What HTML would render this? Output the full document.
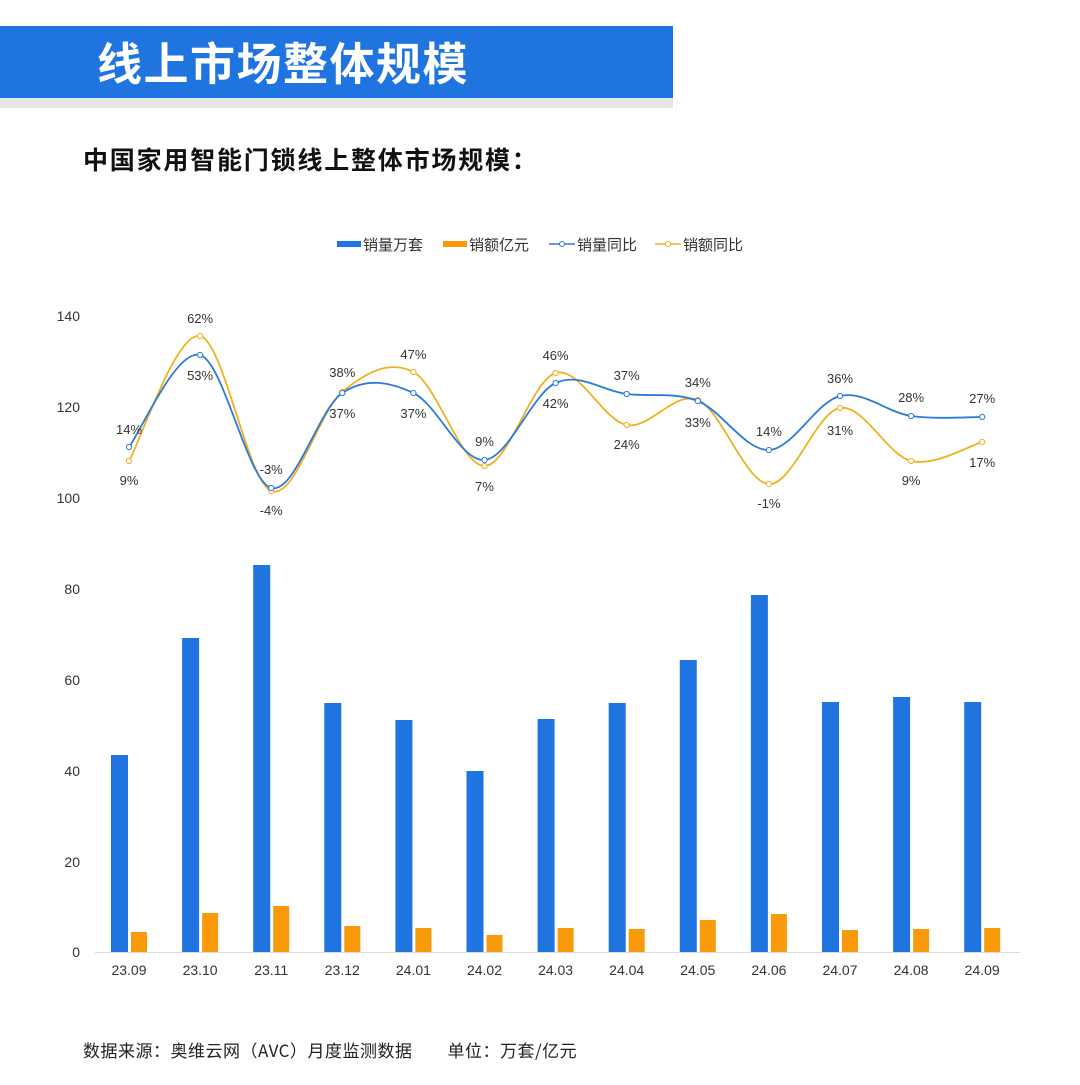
<!DOCTYPE html>
<html><head><meta charset="utf-8"><style>
body{margin:0;width:1080px;height:1080px;background:#fff;overflow:hidden;font-family:"Liberation Sans","Noto Sans CJK SC",sans-serif}
</style></head><body>
<svg id="s" width="1080" height="1080" xmlns="http://www.w3.org/2000/svg" font-family="Liberation Sans, Noto Sans CJK SC, sans-serif">
<rect x="0" y="96" width="673" height="12" fill="#e6e6e6"/>
<rect x="0" y="26" width="673" height="72" fill="#1f74e0"/>
<text x="97" y="80" font-size="45" font-weight="bold" fill="#fff" letter-spacing="1.5" font-family="Noto Sans CJK SC, sans-serif">线上市场整体规模</text>
<text x="83" y="169" font-size="25" font-weight="bold" fill="#111" letter-spacing="1.8" font-family="Noto Sans CJK SC, sans-serif">中国家用智能门锁线上整体市场规模：</text>
<g font-size="15" fill="#333" font-family="Noto Sans CJK SC, sans-serif">
<rect x="337" y="241" width="24" height="6" fill="#1f74e0"/><text x="363" y="250">销量万套</text>
<rect x="443" y="241" width="24" height="6" fill="#f99a0b"/><text x="469" y="250">销额亿元</text>
<line x1="549" y1="244" x2="575" y2="244" stroke="#2b7bd9" stroke-width="1.5"/><circle cx="562" cy="244" r="2.5" fill="#fff" stroke="#2b7bd9"/><text x="577" y="250">销量同比</text>
<line x1="655" y1="244" x2="681" y2="244" stroke="#f0b020" stroke-width="1.5"/><circle cx="668" cy="244" r="2.5" fill="#fff" stroke="#f0b020"/><text x="683" y="250">销额同比</text>
</g>
<g font-size="14" fill="#333" text-anchor="end">
<text x="80" y="321">140</text><text x="80" y="412">120</text><text x="80" y="503">100</text><text x="80" y="594">80</text><text x="80" y="685">60</text><text x="80" y="776">40</text><text x="80" y="867">20</text><text x="80" y="957">0</text>
</g>
<line x1="95" y1="952.5" x2="1020" y2="952.5" stroke="#d9d9d9" stroke-width="1"/>
<g id="g"></g>
<text x="83" y="1057" font-size="17" fill="#222" letter-spacing="0.5" font-family="Noto Sans CJK SC, sans-serif">数据来源：奥维云网（AVC）月度监测数据　　单位：万套/亿元</text>
</svg>
<script>
var g=document.getElementById('g'),N='http://www.w3.org/2000/svg';
function el(t,a,txt){var e=document.createElementNS(N,t);for(var k in a)e.setAttribute(k,a[k]);if(txt)e.textContent=txt;g.appendChild(e);return e;}
var cats=['23.09','23.10','23.11','23.12','24.01','24.02','24.03','24.04','24.05','24.06','24.07','24.08','24.09'];
var bt=[755,638,565,703,720,771,719,703,660,595,702,697,702];
var ot=[932,913,906,926,928,935,928,929,920,914,930,929,928];
var bl=[447,355,488,393,393,460,383,394,401,450,396,416,417];
var ol=[461,336,491,392,372,466,373,425,400,484,408,461,442];
var lt=[['14%',429,'9%',480],['62%',318,'53%',375],['-3%',469,'-4%',510],['38%',372,'37%',413],['47%',354,'37%',413],['9%',441,'7%',486],['46%',355,'42%',403],['37%',375,'24%',444],['34%',382,'33%',422],['14%',431,'-1%',503],['36%',378,'31%',430],['28%',397,'9%',480],['27%',398,'17%',462]];
var cx=[];
for(var i=0;i<13;i++){var c=129+71.1*i;cx.push(c);
el('rect',{x:c-18,y:bt[i],width:17,height:952-bt[i],fill:'#1f74e0'});
el('rect',{x:c+2,y:ot[i],width:16,height:952-ot[i],fill:'#f99a0b'});
el('text',{x:c,y:975,'font-size':14,fill:'#333','text-anchor':'middle'},cats[i]);
}
function path(ys,col){var d='M'+cx[0]+','+ys[0];
for(var i=0;i<12;i++){var p0=i?i-1:i,p3=i+2>12?12:i+2;
var c1x=cx[i]+(cx[i+1]-cx[p0])/6,c1y=ys[i]+(ys[i+1]-ys[p0])/6,c2x=cx[i+1]-(cx[p3]-cx[i])/6,c2y=ys[i+1]-(ys[p3]-ys[i])/6;
d+=' C'+c1x+','+c1y+' '+c2x+','+c2y+' '+cx[i+1]+','+ys[i+1];}
el('path',{d:d,fill:'none',stroke:col,'stroke-width':1.8});
for(var i=0;i<13;i++)el('circle',{cx:cx[i],cy:ys[i],r:2.6,fill:'#fff',stroke:col,'stroke-width':1});}
path(ol,'#f0b020');path(bl,'#2b7bd9');
for(var i=0;i<13;i++){el('text',{x:cx[i],y:lt[i][1]+5,'font-size':13,fill:'#333','text-anchor':'middle'},lt[i][0]);el('text',{x:cx[i],y:lt[i][3]+5,'font-size':13,fill:'#333','text-anchor':'middle'},lt[i][2]);}
</script>
</body></html>
